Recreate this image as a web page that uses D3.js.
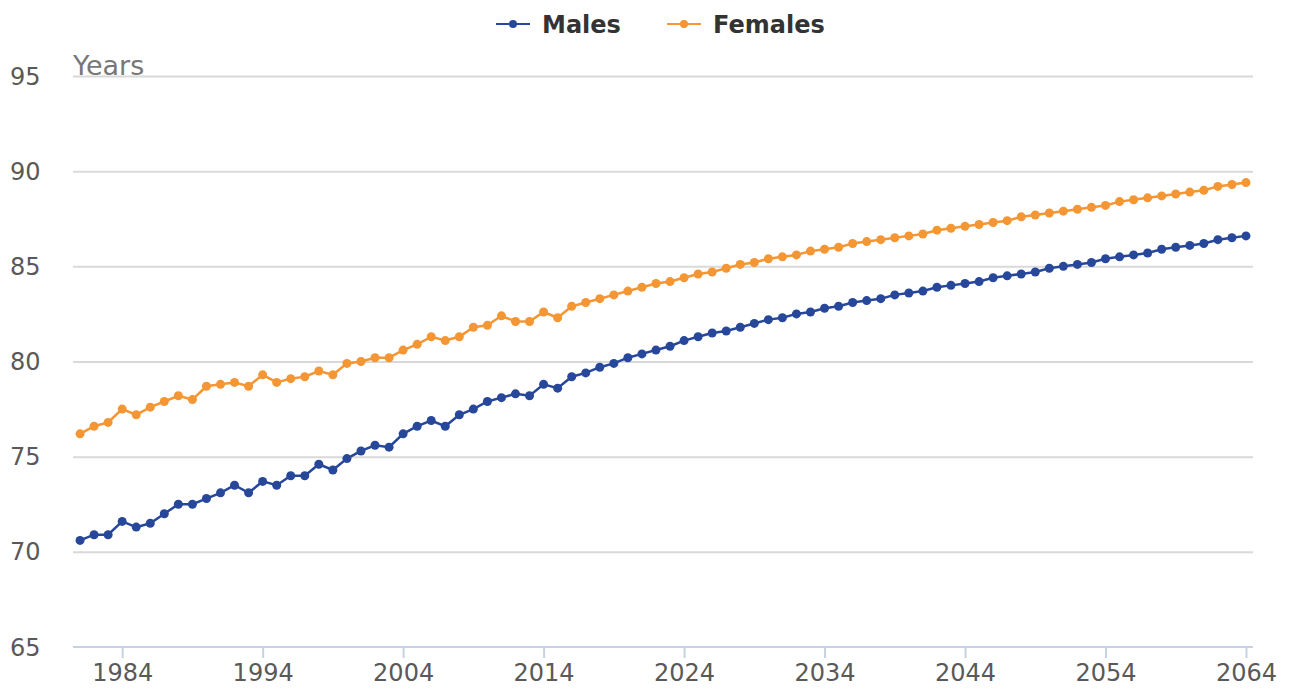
<!DOCTYPE html>
<html lang="en">
<head>
<meta charset="utf-8">
<title>Life expectancy projection</title>
<script src="https://cdnjs.cloudflare.com/ajax/libs/d3/7.8.5/d3.min.js"></script>
<style>
  body { margin: 0; background: #fff; font-family: "DejaVu Sans", sans-serif; }
  .grid line { stroke: #d9d9d9; stroke-width: 2; }
  .grid path { display: none; }
  .ylab text { fill: #595959; font-size: 24px; }
  .xaxis path, .xaxis line { stroke: #c6d2e2; stroke-width: 2; }
  .xaxis text { fill: #595959; font-size: 24px; }
</style>
</head>
<body>
<div id="chart"></div>
<script>
// years 1981..2064
const years = d3.range(1981, 2065);

const males = [
  70.6, 70.9, 70.9, 71.6, 71.3, 71.5, 72.0, 72.5, 72.5, 72.8,
  73.1, 73.5, 73.1, 73.7, 73.5, 74.0, 74.0, 74.6, 74.3, 74.9,
  75.3, 75.6, 75.5, 76.2, 76.6, 76.9, 76.6, 77.2, 77.5, 77.9,
  78.1, 78.3, 78.2, 78.8, 78.6, 79.2, 79.4, 79.7, 79.9, 80.2,
  80.4, 80.6, 80.8, 81.1, 81.3, 81.5, 81.6, 81.8, 82.0, 82.2,
  82.3, 82.5, 82.6, 82.8, 82.9, 83.1, 83.2, 83.3, 83.5, 83.6,
  83.7, 83.9, 84.0, 84.1, 84.2, 84.4, 84.5, 84.6, 84.7, 84.9,
  85.0, 85.1, 85.2, 85.4, 85.5, 85.6, 85.7, 85.9, 86.0, 86.1,
  86.2, 86.4, 86.5, 86.6
];

const females = [
  76.2, 76.6, 76.8, 77.5, 77.2, 77.6, 77.9, 78.2, 78.0, 78.7,
  78.8, 78.9, 78.7, 79.3, 78.9, 79.1, 79.2, 79.5, 79.3, 79.9,
  80.0, 80.2, 80.2, 80.6, 80.9, 81.3, 81.1, 81.3, 81.8, 81.9,
  82.4, 82.1, 82.1, 82.6, 82.3, 82.9, 83.1, 83.3, 83.5, 83.7,
  83.9, 84.1, 84.2, 84.4, 84.6, 84.7, 84.9, 85.1, 85.2, 85.4,
  85.5, 85.6, 85.8, 85.9, 86.0, 86.2, 86.3, 86.4, 86.5, 86.6,
  86.7, 86.9, 87.0, 87.1, 87.2, 87.3, 87.4, 87.6, 87.7, 87.8,
  87.9, 88.0, 88.1, 88.2, 88.4, 88.5, 88.6, 88.7, 88.8, 88.9,
  89.0, 89.2, 89.3, 89.4
];

const yTicks = [65, 70, 75, 80, 85, 90, 95];
const xTicks = [1984, 1994, 2004, 2014, 2024, 2034, 2044, 2054, 2064];

const series = [
  { name: "Males", values: males, color: "#27479a" },
  { name: "Females", values: females, color: "#f49633" }
];

const w = 1290, h = 693;
const padL = 73, padR = 1253, padT = 76, padB = 647;

const svg = d3.select("#chart").append("svg")
  .attr("width", w)
  .attr("height", h);

const x = d3.scaleLinear().domain([1980.5, 2064.5]).range([padL, padR]);
const y = d3.scaleLinear().domain([65, 95]).range([padB, padT]);

// gridlines (not the bottom one, that is the axis)
svg.append("g")
  .attr("class", "grid")
  .attr("transform", "translate(" + padL + ",0)")
  .call(d3.axisLeft(y).tickValues(yTicks.filter(d => d > 65))
    .tickSize(-(padR - padL)).tickFormat(""));

// y labels
svg.append("g")
  .attr("class", "ylab")
  .selectAll("text")
  .data(yTicks)
  .enter()
  .append("text")
  .attr("x", 10)
  .attr("y", d => y(d))
  .attr("dy", "0.36em")
  .text(d => d);

// x axis
const xAxis = svg.append("g")
  .attr("class", "xaxis")
  .attr("transform", "translate(0," + padB + ")")
  .call(d3.axisBottom(x).tickValues(xTicks).tickSize(11).tickPadding(6)
    .tickFormat(d3.format("d")));
xAxis.select(".domain").attr("d", "M" + padL + ",0H" + padR);
xAxis.attr("font-family", null).attr("font-size", null);

svg.append("text")
  .attr("x", padL)
  .attr("y", padT - 1)
  .attr("fill", "#777")
  .attr("font-size", 27)
  .text("Years");

// lines + markers
const line = d3.line()
  .x((d, i) => x(years[i]))
  .y(d => y(d));

series.forEach(s => {
  svg.append("path")
    .datum(s.values)
    .attr("fill", "none")
    .attr("stroke", s.color)
    .attr("stroke-width", 2.5)
    .attr("d", line);
  svg.append("g")
    .selectAll("circle")
    .data(s.values)
    .enter()
    .append("circle")
    .attr("cx", (d, i) => x(years[i]))
    .attr("cy", d => y(d))
    .attr("r", 4.5)
    .attr("fill", s.color);
});

// legend
const legendX = [496, 667];
const legend = svg.append("g").attr("id", "legend")
  .selectAll("g")
  .data(series)
  .enter()
  .append("g")
  .attr("transform", (d, i) => "translate(" + legendX[i] + ",24)");
legend.append("line")
  .attr("x1", 0).attr("x2", 34)
  .attr("stroke", d => d.color)
  .attr("stroke-width", 2.2);
legend.append("circle")
  .attr("cx", 17).attr("r", 4)
  .attr("fill", d => d.color);
legend.append("text")
  .attr("x", 46)
  .attr("dy", "0.36em")
  .attr("font-size", 24)
  .attr("font-weight", "bold")
  .attr("fill", "#333")
  .text(d => d.name);
</script>
</body>
</html>
